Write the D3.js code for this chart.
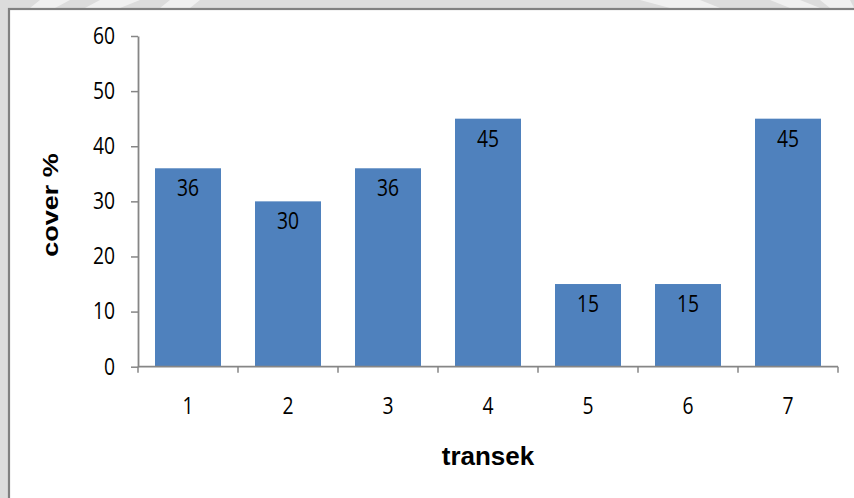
<!DOCTYPE html>
<html>
<head>
<meta charset="utf-8">
<script src="https://cdn.jsdelivr.net/npm/d3@7/dist/d3.min.js"></script>
<style>
html,body{margin:0;padding:0;background:#fff;}
svg{display:block;}
</style>
</head>
<body>
<svg id="chart" width="854" height="498"></svg>
<script>
const categories = ["1","2","3","4","5","6","7"];
const values = [36, 30, 36, 45, 15, 15, 45];
const yTicks = [0, 10, 20, 30, 40, 50, 60];
const xTitle = "transek";
const yTitle = "cover %";

const W = 854, H = 498;
const svg = d3.select("#chart");

// outer background (watermark area)
svg.append("rect").attr("width", W).attr("height", H).attr("fill", "#dcdcdc");
const stripes = [[40,0,70,0,55,8,30,8],[100,0,140,0,120,8,85,8],[170,0,200,0,190,8,160,8],[640,0,700,0,720,8,670,8],[770,0,800,0,820,8,790,8],[820,0,850,0,854,8,830,8]];
svg.selectAll("polygon.wm").data(stripes).join("polygon")
  .attr("points", d => d.join(" ")).attr("fill", "#f0f0f0");
svg.append("rect").attr("x", 9).attr("y", 9).attr("width", W).attr("height", H).attr("fill", "#fff")
  .attr("stroke", "#808080").attr("stroke-width", 2.2);

const m = {left: 138, right: 838, top: 36, bottom: 366.7};
const x = d3.scaleBand().domain(categories).range([m.left, m.right]).paddingInner(0.34).paddingOuter(0.17);
const y = d3.scaleLinear().domain([0, 60]).range([m.bottom, m.top]);

const axisColor = "#868686";
const font = "'Open Sans', sans-serif";
const fs = 23, sx = 0.84;

// bars
svg.selectAll("rect.bar").data(values).join("rect")
  .attr("class","bar")
  .attr("x", (d,i) => x(categories[i]))
  .attr("y", d => y(d))
  .attr("width", x.bandwidth())
  .attr("height", d => y(0) - y(d))
  .attr("fill", "#4F81BD");

// data labels
svg.selectAll("text.lbl").data(values).join("text")
  .attr("transform", `scale(${sx},1)`)
  .attr("x", (d,i) => (x(categories[i]) + x.bandwidth()/2) / sx)
  .attr("y", d => y(d) + 28)
  .attr("text-anchor","middle")
  .attr("font-family", font).attr("font-size", fs).attr("fill","#000")
  .text(d => d);

// y axis
const yAxis = d3.axisLeft(y).tickValues(yTicks).tickSize(7).tickPadding(16).tickSizeOuter(0);
const gy = svg.append("g").attr("transform", `translate(${m.left},0)`).call(yAxis);
gy.select(".domain").attr("stroke", axisColor).attr("stroke-width", 1.8);
gy.selectAll(".tick line").attr("stroke", axisColor).attr("stroke-width", 1.5);
gy.selectAll(".tick text").attr("font-family", font).attr("font-size", fs).attr("fill", "#000")
  .attr("transform", `scale(${sx},1)`).attr("x", -23 / sx);

// x axis
const gx = svg.append("g").attr("transform", `translate(0,${m.bottom})`);
gx.append("line").attr("x1", m.left).attr("x2", m.right).attr("y1",0).attr("y2",0)
  .attr("stroke", axisColor).attr("stroke-width", 1.8);
const tickXs = d3.range(categories.length + 1).map(i => m.left + i * x.step());
gx.selectAll("line.tk").data(tickXs).join("line")
  .attr("x1", d => d).attr("x2", d => d).attr("y1", 0).attr("y2", 6)
  .attr("stroke", axisColor).attr("stroke-width", 1.5);
gx.selectAll("text.xl").data(categories).join("text")
  .attr("transform", `scale(${sx},1)`)
  .attr("x", d => (x(d) + x.bandwidth()/2) / sx)
  .attr("y", 47)
  .attr("text-anchor","middle")
  .attr("font-family", font).attr("font-size", fs).attr("fill","#000")
  .text(d => d);

// titles
svg.append("text").attr("x", (m.left + m.right)/2).attr("y", 465)
  .attr("text-anchor","middle").attr("font-family","'Liberation Sans', Arial, sans-serif")
  .attr("font-weight","bold").attr("font-size", 26).attr("fill","#000").text(xTitle);
svg.append("text").attr("transform", "translate(58,205) rotate(-90) scale(1,0.8)")
  .attr("text-anchor","middle").attr("font-family","'Liberation Sans', Arial, sans-serif")
  .attr("font-weight","bold").attr("font-size", 27).attr("fill","#000").text(yTitle);
</script>
</body>
</html>
